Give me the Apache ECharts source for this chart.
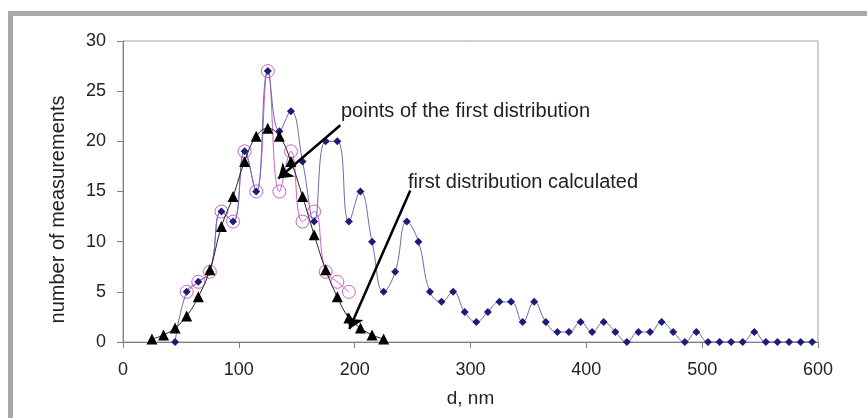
<!DOCTYPE html>
<html>
<head>
<meta charset="utf-8">
<script src="https://cdn.jsdelivr.net/npm/echarts@6/dist/echarts.min.js"></script>
<style>
html,body{margin:0;padding:0;background:#fff;}
#chart{width:867px;height:418px;}
</style>
</head>
<body>
<div id="chart"></div>
<script>
// Measured series (d in nm, number of measurements)
const measuredD = [45,55,65,75,85,95,105,115,125,135,145,155,165,175,185,195,205,215,225,235,245,255,265,275,285,295,305,315,325,335,345,355,365,375,385,395,405,415,425,435,445,455,465,475,485,495,505,515,525,535,545,555,565,575,585,595];
const measuredN = [0,5,6,7,13,12,19,15,27,21,23,18,12,20,20,12,15,10,5,7,12,10,5,4,5,3,2,3,4,4,2,4,2,1,1,2,1,2,1,0,1,1,2,1,0,1,0,0,0,0,1,0,0,0,0,0];

// Points of the first distribution
const firstPointsD = [55,65,75,85,95,105,115,125,135,145,155,165,175,185,195];
const firstPointsN = [5,6,7,13,12,19,15,27,15,19,12,13,7,6,5];

// First distribution calculated
const calcD = [25,35,45,55,65,75,85,95,105,115,125,135,145,155,165,175,185,195,205,215,225];
const calcN = [0.3,0.7,1.4,2.6,4.5,7.2,11.5,14.5,18,20.5,21.3,20.5,18,14.5,10.7,7.2,4.5,2.4,1.4,0.7,0.3];

// Axis ticks
const xTicks = [0,100,200,300,400,500,600];
const yTicks = [0,5,10,15,20,25,30];

// Annotation labels and arrows (data coordinates: from -> to)
const annoText1 = 'points of the first distribution';
const annoText2 = 'first distribution calculated';
const arrow1 = [[187.6,21.6],[134,16.3]];
const arrow2 = [[248,15.1],[195.4,1.3]];

const zip = (a,b) => a.map((v,i)=>[v,b[i]]);
const FONT = 'Liberation Sans, Arial, sans-serif';

const chart = echarts.init(document.getElementById('chart'), null, {renderer:'canvas'});
chart.setOption({
  animation:false,
  backgroundColor:'#ffffff',
  grid:{left:123,right:49,top:41,bottom:76,show:true,borderColor:'#a0a0a0',borderWidth:1,backgroundColor:'transparent'},
  xAxis:{
    type:'value',min:xTicks[0],max:xTicks[xTicks.length-1],interval:xTicks[1]-xTicks[0],
    name:'d, nm',nameLocation:'middle',nameGap:47,
    nameTextStyle:{fontFamily:FONT,fontSize:19,color:'#222'},
    axisLine:{show:true,onZero:false,lineStyle:{color:'#808080',width:1}},
    axisTick:{show:true,inside:false,length:6,lineStyle:{color:'#808080'}},
    axisLabel:{fontFamily:FONT,fontSize:18,color:'#222',margin:19},
    splitLine:{show:false}
  },
  yAxis:{
    type:'value',min:yTicks[0],max:yTicks[yTicks.length-1],interval:yTicks[1]-yTicks[0],
    name:'number of measurements',nameLocation:'middle',nameGap:55,
    nameTextStyle:{fontFamily:FONT,fontSize:20,color:'#222',padding:[0,36,0,0]},
    axisLine:{show:true,lineStyle:{color:'#808080',width:1}},
    axisTick:{show:true,inside:false,length:6,lineStyle:{color:'#808080'}},
    axisLabel:{fontFamily:FONT,fontSize:18,color:'#222',margin:17},
    splitLine:{show:false}
  },
  series:[
    {
      name:'points of the first distribution',type:'line',data:zip(firstPointsD,firstPointsN),
      smooth:0.45,symbol:'circle',symbolSize:13,showSymbol:true,
      itemStyle:{color:'rgba(0,0,0,0)',borderColor:'#d060c8',borderWidth:1},
      lineStyle:{color:'#d060c8',width:1},z:2
    },
    {
      name:'measured',type:'line',data:zip(measuredD,measuredN),
      smooth:0.45,symbol:'diamond',symbolSize:8,showSymbol:true,
      itemStyle:{color:'#1c1c78'},
      lineStyle:{color:'#6a6aae',width:1},z:3
    },
    {
      name:'first distribution calculated',type:'line',data:zip(calcD,calcN),
      smooth:0.45,symbol:'triangle',symbolSize:11,showSymbol:true,
      itemStyle:{color:'#000000'},
      lineStyle:{color:'#222222',width:1},z:4,
      markLine:{
        silent:true,symbol:['none','arrow'],symbolSize:14,
        label:{show:false},
        lineStyle:{color:'#000',width:2.5,type:'solid'},
        data:[
          [{coord:arrow1[0]},{coord:arrow1[1]}],
          [{coord:arrow2[0]},{coord:arrow2[1]}]
        ]
      }
    }
  ],
  graphic:[
    {type:'polyline',shape:{points:[[10.5,418],[10.5,13.5],[867,13.5]]},style:{stroke:'#a8a8aa',lineWidth:5,fill:null},silent:true},
    {type:'text',left:341,top:101,style:{text:annoText1,fontFamily:FONT,fontSize:20,fill:'#222'}},
    {type:'text',left:408,top:172,style:{text:annoText2,fontFamily:FONT,fontSize:20,fill:'#222'}}
  ]
});
</script>
</body>
</html>
